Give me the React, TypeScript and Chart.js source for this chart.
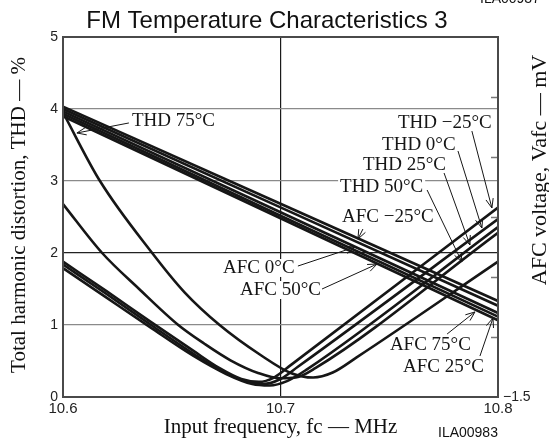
import { useEffect, useRef } from 'react';
import { Chart, registerables } from 'chart.js';

Chart.register(...registerables);

const TITLE = 'FM Temperature Characteristics 3';
const X_TITLE = 'Input frequency, fc — MHz';
const Y_TITLE = 'Total harmonic distortion, THD — %';
const Y1_TITLE = 'AFC voltage, Vafc — mV';
const FIGURE_ID = 'ILA00983';
const PREV_FIGURE_ID = 'ILA00937';

const FREQ_TICKS = [10.6, 10.7, 10.8];
const THD_TICKS = [0, 1, 2, 3, 4, 5];
const AFC_TICKS = [-1.5, -1, -0.5, 0, 0.5, 1, 1.5];

// THD curves: [frequency MHz, THD %]
const THD_M25: [number, number][] = [
  [10.6, 1.88], [10.62, 1.47], [10.64, 1.05], [10.66, 0.64], [10.672, 0.4],
  [10.682, 0.25], [10.69, 0.21], [10.697, 0.27], [10.705, 0.45], [10.8, 2.63],
];
const THD_0: [number, number][] = [
  [10.6, 1.84], [10.62, 1.43], [10.64, 1.01], [10.66, 0.6], [10.673, 0.36],
  [10.684, 0.22], [10.692, 0.18], [10.7, 0.25], [10.708, 0.42], [10.8, 2.47],
];
const THD_25: [number, number][] = [
  [10.6, 1.79], [10.62, 1.38], [10.64, 0.97], [10.66, 0.57], [10.675, 0.32],
  [10.687, 0.18], [10.695, 0.16], [10.703, 0.22], [10.712, 0.38], [10.8, 2.36],
];
const THD_50: [number, number][] = [
  [10.6, 2.68], [10.618, 2.0], [10.635, 1.5], [10.653, 1.0], [10.665, 0.74],
  [10.677, 0.51], [10.69, 0.33], [10.7, 0.26], [10.707, 0.27], [10.716, 0.4], [10.8, 2.28],
];
const THD_75: [number, number][] = [
  [10.6, 3.95], [10.617, 3.0], [10.641, 2.0], [10.656, 1.45],
  [10.672, 1.0], [10.691, 0.58], [10.705, 0.33], [10.715, 0.27], [10.724, 0.34],
  [10.735, 0.55], [10.8, 1.88],
];

// AFC lines: [frequency MHz, AFC voltage mV]
const AFC_M25: [number, number][] = [[10.6, 0.92], [10.7, 0.11], [10.8, -0.7]];
const AFC_0: [number, number][] = [[10.6, 0.9], [10.7, 0.08], [10.8, -0.74]];
const AFC_50: [number, number][] = [[10.6, 0.88], [10.7, 0.04], [10.8, -0.8]];
const AFC_25: [number, number][] = [[10.6, 0.86], [10.7, 0.01], [10.8, -0.83]];
const AFC_75: [number, number][] = [[10.6, 0.84], [10.7, -0.01], [10.8, -0.86]];

// Labels: text, text left anchor, leader start, arrow tip (MHz, THD % scale)
type Ann = { text: string; at: [number, number]; from: [number, number]; tip: [number, number] };
const ANNOTATIONS: Ann[] = [
  { text: 'THD 75°C', at: [10.6317, 3.833], from: [10.6303, 3.806], tip: [10.6064, 3.667] },
  { text: 'THD −25°C', at: [10.754, 3.806], from: [10.788, 3.694], tip: [10.7972, 2.625] },
  { text: 'THD 0°C', at: [10.7467, 3.5], from: [10.7816, 3.417], tip: [10.7926, 2.347] },
  { text: 'THD 25°C', at: [10.7379, 3.222], from: [10.7752, 3.111], tip: [10.7871, 2.111] },
  { text: 'THD 50°C', at: [10.7274, 2.917], from: [10.7674, 2.875], tip: [10.7834, 1.875] },
  { text: 'AFC −25°C', at: [10.7283, 2.5], from: [10.7379, 2.333], tip: [10.7356, 2.194] },
  { text: 'AFC 0°C', at: [10.6736, 1.792], from: [10.708, 1.819], tip: [10.7343, 2.083] },
  { text: 'AFC 50°C', at: [10.6814, 1.486], from: [10.7191, 1.5], tip: [10.7444, 1.847] },
  { text: 'AFC 75°C', at: [10.7503, 0.722], from: [10.7766, 0.875], tip: [10.7894, 1.181] },
  { text: 'AFC 25°C', at: [10.7563, 0.417], from: [10.7917, 0.569], tip: [10.7977, 1.097] },
];

const SERIF = '"Liberation Serif", "DejaVu Serif", serif';
const SANS = '"Liberation Sans", Arial, sans-serif';
const LABEL_FONT = `19px ${SERIF}`;
const INK = '#161616';

const toPts = (arr: [number, number][]) => arr.map(([x, y]) => ({ x, y }));

const overlay = {
  id: 'overlay',
  beforeDatasetsDraw(chart: any) {
    const { ctx } = chart;
    const xs = chart.scales.x;
    const ys = chart.scales.y;
    ctx.save();
    ctx.font = LABEL_FONT;
    ctx.fillStyle = '#fff';
    for (const a of ANNOTATIONS) {
      const px = xs.getPixelForValue(a.at[0]);
      const py = ys.getPixelForValue(a.at[1]);
      const w = ctx.measureText(a.text).width;
      ctx.fillRect(px - 2, py - 9, w + 4, 18);
    }
    ctx.restore();
  },
  afterDatasetsDraw(chart: any) {
    const { ctx, chartArea: ca } = chart;
    const xs = chart.scales.x;
    const ys = chart.scales.y;
    const y1 = chart.scales.y1;
    ctx.save();
    // inner ticks on right axis
    ctx.strokeStyle = '#777';
    ctx.lineWidth = 1.5;
    for (const v of AFC_TICKS) {
      if (v === AFC_TICKS[0] || v === AFC_TICKS[AFC_TICKS.length - 1]) continue;
      const py = Math.round(y1.getPixelForValue(v)) + 0.5;
      ctx.beginPath();
      ctx.moveTo(ca.right - 7, py);
      ctx.lineTo(ca.right, py);
      ctx.stroke();
    }
    // frame
    ctx.strokeStyle = '#4a4a4a';
    ctx.lineWidth = 2;
    ctx.strokeRect(ca.left, ca.top, ca.right - ca.left, ca.bottom - ca.top);
    // annotations
    ctx.font = LABEL_FONT;
    ctx.fillStyle = INK;
    ctx.strokeStyle = INK;
    ctx.lineWidth = 1;
    ctx.textBaseline = 'middle';
    ctx.textAlign = 'left';
    for (const a of ANNOTATIONS) {
      const px = xs.getPixelForValue(a.at[0]);
      const py = ys.getPixelForValue(a.at[1]);
      ctx.fillText(a.text, px, py);
      const fx = xs.getPixelForValue(a.from[0]);
      const fy = ys.getPixelForValue(a.from[1]);
      const tx = xs.getPixelForValue(a.tip[0]);
      const ty = ys.getPixelForValue(a.tip[1]);
      ctx.beginPath();
      ctx.moveTo(fx, fy);
      ctx.lineTo(tx, ty);
      const ang = Math.atan2(fy - ty, fx - tx);
      const L = 10;
      const spread = 0.38;
      ctx.moveTo(tx + L * Math.cos(ang + spread), ty + L * Math.sin(ang + spread));
      ctx.lineTo(tx, ty);
      ctx.lineTo(tx + L * Math.cos(ang - spread), ty + L * Math.sin(ang - spread));
      ctx.stroke();
    }
    ctx.restore();
  },
  afterDraw(chart: any) {
    const { ctx, chartArea: ca } = chart;
    ctx.save();
    ctx.fillStyle = '#111';
    ctx.textAlign = 'center';
    ctx.textBaseline = 'alphabetic';
    ctx.font = `24px ${SANS}`;
    ctx.fillText(TITLE, 267, 28);
    ctx.font = `21px ${SERIF}`;
    ctx.fillText(X_TITLE, (ca.left + ca.right) / 2, 433);
    ctx.save();
    ctx.translate(25, (ca.top + ca.bottom) / 2 - 2);
    ctx.rotate(-Math.PI / 2);
    ctx.fillText(Y_TITLE, 0, 0);
    ctx.restore();
    ctx.font = `22px ${SERIF}`;
    ctx.save();
    ctx.translate(546, 170);
    ctx.rotate(-Math.PI / 2);
    ctx.fillText(Y1_TITLE, 0, 0);
    ctx.restore();
    ctx.font = `14px ${SANS}`;
    ctx.textAlign = 'left';
    ctx.fillText(FIGURE_ID, 438, 437);
    ctx.fillText(PREV_FIGURE_ID, 480, 3);
    ctx.restore();
  },
};

export default function App() {
  const ref = useRef<HTMLCanvasElement | null>(null);
  useEffect(() => {
    document.body.style.margin = '0';
    const canvas = ref.current!;
    const mk = (label: string, data: [number, number][], axis: string, tension: number) => ({
      label,
      data: toPts(data),
      yAxisID: axis,
      borderColor: INK,
      borderWidth: 2.6,
      pointRadius: 0,
      fill: false,
      tension,
      cubicInterpolationMode: tension > 0 ? ('monotone' as const) : ('default' as const),
    });
    const chart = new Chart(canvas, {
      type: 'line',
      data: {
        datasets: [
          mk('THD -25°C', THD_M25, 'y', 0.4),
          mk('THD 0°C', THD_0, 'y', 0.4),
          mk('THD 25°C', THD_25, 'y', 0.4),
          mk('THD 50°C', THD_50, 'y', 0.4),
          mk('THD 75°C', THD_75, 'y', 0.4),
          mk('AFC -25°C', AFC_M25, 'y1', 0),
          mk('AFC 0°C', AFC_0, 'y1', 0),
          mk('AFC 25°C', AFC_25, 'y1', 0),
          mk('AFC 50°C', AFC_50, 'y1', 0),
          mk('AFC 75°C', AFC_75, 'y1', 0),
        ],
      },
      options: {
        responsive: false,
        animation: false,
        devicePixelRatio: 1,
        layout: { padding: { top: 37, left: 0, right: 0, bottom: 0 } },
        plugins: {
          legend: { display: false },
          tooltip: { enabled: false },
          title: { display: false },
        },
        scales: {
          x: {
            type: 'linear',
            min: FREQ_TICKS[0],
            max: FREQ_TICKS[FREQ_TICKS.length - 1],
            afterBuildTicks: (s: any) => {
              s.ticks = FREQ_TICKS.map((v) => ({ value: v }));
            },
            afterFit: (s: any) => {
              s.height = 44;
            },
            ticks: {
              callback: (v: any) => Number(v).toFixed(1),
              font: { family: SANS, size: 15 },
              color: '#222',
              padding: 3,
              maxRotation: 0,
              autoSkip: false,
            },
            grid: {
              color: (c: any) => (c.tick && Math.abs(c.tick.value - 10.7) < 1e-6 ? '#1a1a1a' : 'rgba(0,0,0,0)'),
              lineWidth: 1.2,
              drawTicks: false,
            },
            border: { display: false },
          },
          y: {
            type: 'linear',
            min: THD_TICKS[0],
            max: THD_TICKS[THD_TICKS.length - 1],
            afterBuildTicks: (s: any) => {
              s.ticks = THD_TICKS.map((v) => ({ value: v }));
            },
            afterFit: (s: any) => {
              s.width = 63;
            },
            ticks: {
              font: { family: SANS, size: 14 },
              color: '#222',
              padding: 5,
            },
            grid: {
              color: (c: any) => {
                const v = c.tick ? c.tick.value : -1;
                if (v === 2) return '#222';
                if (v > 0 && v < 5) return '#8a8a8a';
                return 'rgba(0,0,0,0)';
              },
              lineWidth: 1.2,
              drawTicks: false,
            },
            border: { display: false },
          },
          y1: {
            type: 'linear',
            position: 'right',
            min: AFC_TICKS[0],
            max: AFC_TICKS[AFC_TICKS.length - 1],
            afterBuildTicks: (s: any) => {
              s.ticks = AFC_TICKS.map((v) => ({ value: v }));
            },
            afterFit: (s: any) => {
              s.width = 51;
            },
            ticks: {
              callback: (v: any) => (Number(v) === AFC_TICKS[0] ? '−1.5' : ''),
              font: { family: SANS, size: 14 },
              color: '#222',
              padding: 5,
              autoSkip: false,
            },
            grid: { display: false, drawTicks: false },
            border: { display: false },
          },
        },
      },
      plugins: [overlay],
    });
    return () => chart.destroy();
  }, []);
  return (
    <div style={{ width: 549, height: 441 }}>
      <canvas ref={ref} width={549} height={441} style={{ display: 'block' }} />
    </div>
  );
}
